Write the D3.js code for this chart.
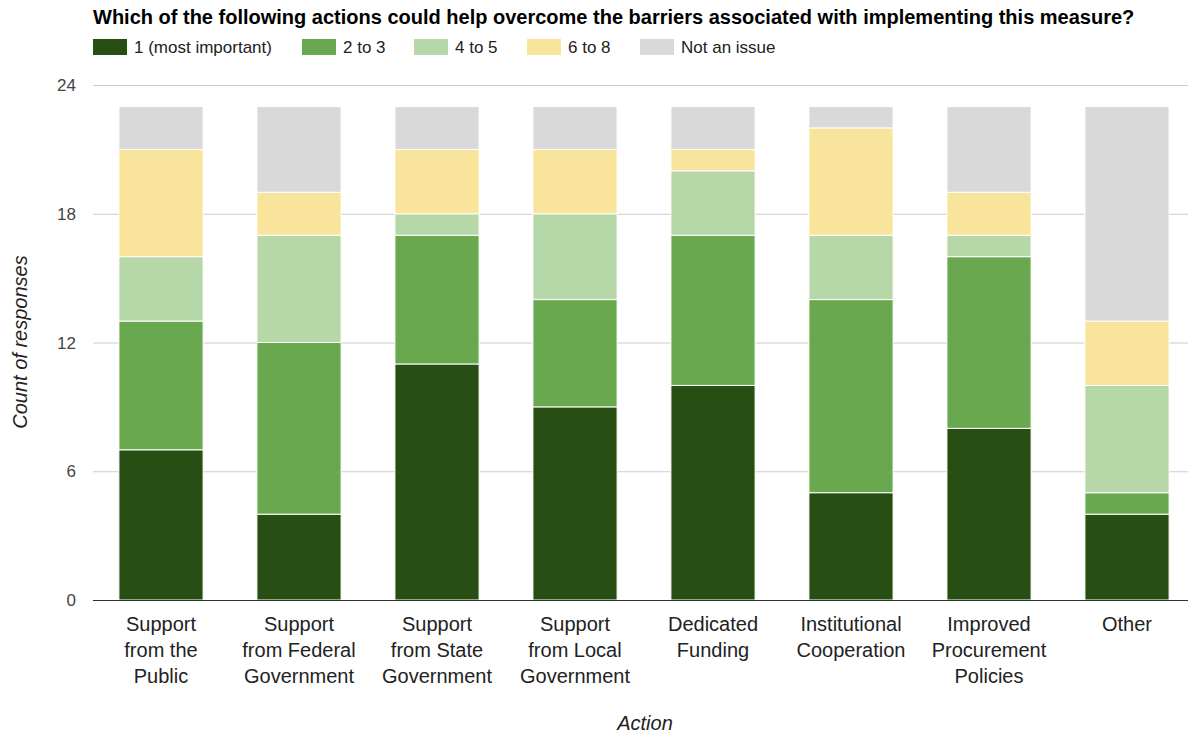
<!DOCTYPE html>
<html>
<head>
<meta charset="utf-8">
<script src="https://cdnjs.cloudflare.com/ajax/libs/d3/7.8.5/d3.min.js"></script>
<style>
  body { margin: 0; background: #fff; font-family: "Liberation Sans", Arial, sans-serif; }
</style>
</head>
<body>
<div id="container"></div>
<script>
/* DATA */
const categories = [
  "Support from the Public",
  "Support from Federal Government",
  "Support from State Government",
  "Support from Local Government",
  "Dedicated Funding",
  "Institutional Cooperation",
  "Improved Procurement Policies",
  "Other"
];
// wrapped labels as shown under each bar
const catLines = [
  ["Support", "from the", "Public"],
  ["Support", "from Federal", "Government"],
  ["Support", "from State", "Government"],
  ["Support", "from Local", "Government"],
  ["Dedicated", "Funding"],
  ["Institutional", "Cooperation"],
  ["Improved", "Procurement", "Policies"],
  ["Other"]
];
const seriesNames = ["1 (most important)", "2 to 3", "4 to 5", "6 to 8", "Not an issue"];
const mostImportant = [7, 4, 11, 9, 10, 5, 8, 4];
const twoToThree    = [6, 8, 6, 5, 7, 9, 8, 1];
const fourToFive    = [3, 5, 1, 4, 3, 3, 1, 5];
const sixToEight    = [5, 2, 3, 3, 1, 5, 2, 3];
const notAnIssue    = [2, 4, 2, 2, 2, 1, 4, 10];
const yTicks = [0, 6, 12, 18, 24];
const colors = ["#274e13", "#6aa84f", "#b6d7a8", "#f9e49b", "#d9d9d9"];

const width = 1188;
const height = 736;

const table = categories.map((c, i) => ({
  cat: c,
  s0: mostImportant[i], s1: twoToThree[i], s2: fourToFive[i], s3: sixToEight[i], s4: notAnIssue[i]
}));
const keys = ["s0", "s1", "s2", "s3", "s4"];
const stacked = d3.stack().keys(keys)(table);

const svg = d3.select("#container").append("svg")
  .attr("width", width)
  .attr("height", height)
  .style("font-family", "'Liberation Sans', Arial, sans-serif");

/* SCALES */
const xScale = d3.scaleBand()
  .domain(categories)
  .range([92, 1196])
  .paddingInner(0.39)
  .paddingOuter(0.195);

const yScale = d3.scaleLinear()
  .domain([0, 24])
  .range([600, 85]);

const colorScale = d3.scaleOrdinal().domain(keys).range(colors);

// gridlines
svg.append("g")
  .selectAll("line")
  .data(yTicks.filter(d => d > 0))
  .join("line")
  .attr("x1", 93)
  .attr("x2", width)
  .attr("y1", d => yScale(d) + 0.5)
  .attr("y2", d => yScale(d) + 0.5)
  .attr("stroke", "#cccccc");

// y tick labels
svg.append("g")
  .selectAll("text")
  .data(yTicks)
  .join("text")
  .attr("x", 76)
  .attr("y", d => yScale(d) + 6)
  .attr("text-anchor", "end")
  .attr("font-size", 17)
  .attr("fill", "#444")
  .text(d => d);

// bars
svg.append("g")
  .selectAll("g")
  .data(stacked)
  .join("g")
  .attr("fill", d => colorScale(d.key))
  .selectAll("rect")
  .data(d => d)
  .join("rect")
  .attr("x", d => xScale(d.data.cat))
  .attr("y", d => yScale(d[1]))
  .attr("width", xScale.bandwidth())
  .attr("height", d => yScale(d[0]) - yScale(d[1]))
  .attr("stroke", "#ffffff")
  .attr("stroke-width", 1);

// baseline
svg.append("line")
  .attr("x1", 93)
  .attr("x2", width)
  .attr("y1", yScale(0) + 0.5)
  .attr("y2", yScale(0) + 0.5)
  .attr("stroke", "#333")
  .attr("stroke-width", 1);

// category labels
const catG = svg.append("g");
categories.forEach((c, i) => {
  const t = catG.append("text")
    .attr("x", xScale(c) + xScale.bandwidth() / 2)
    .attr("y", 631)
    .attr("text-anchor", "middle")
    .attr("font-size", 20)
    .attr("fill", "#222");
  catLines[i].forEach((line, j) => {
    t.append("tspan")
      .attr("x", xScale(c) + xScale.bandwidth() / 2)
      .attr("dy", j === 0 ? 0 : 26)
      .text(line);
  });
});

// title
svg.append("text")
  .attr("x", 93)
  .attr("y", 24)
  .attr("font-size", 20)
  .attr("font-weight", "bold")
  .attr("fill", "#000")
  .text("Which of the following actions could help overcome the barriers associated with implementing this measure?");

// legend
const legendX = [93, 302, 414, 527, 640];
const legend = svg.append("g")
  .selectAll("g")
  .data(seriesNames)
  .join("g")
  .attr("transform", (d, i) => `translate(${legendX[i]}, 39)`);
legend.append("rect")
  .attr("width", 34)
  .attr("height", 16)
  .attr("fill", (d, i) => colors[i]);
legend.append("text")
  .attr("x", 41)
  .attr("y", 14)
  .attr("font-size", 17)
  .attr("fill", "#222")
  .text(d => d);

// axis titles
svg.append("text")
  .attr("x", 645)
  .attr("y", 730)
  .attr("text-anchor", "middle")
  .attr("font-size", 20)
  .attr("font-style", "italic")
  .attr("fill", "#222")
  .text("Action");

svg.append("text")
  .attr("transform", "translate(27, 342) rotate(-90)")
  .attr("text-anchor", "middle")
  .attr("font-size", 20)
  .attr("font-style", "italic")
  .attr("fill", "#222")
  .text("Count of responses");
</script>
</body>
</html>
